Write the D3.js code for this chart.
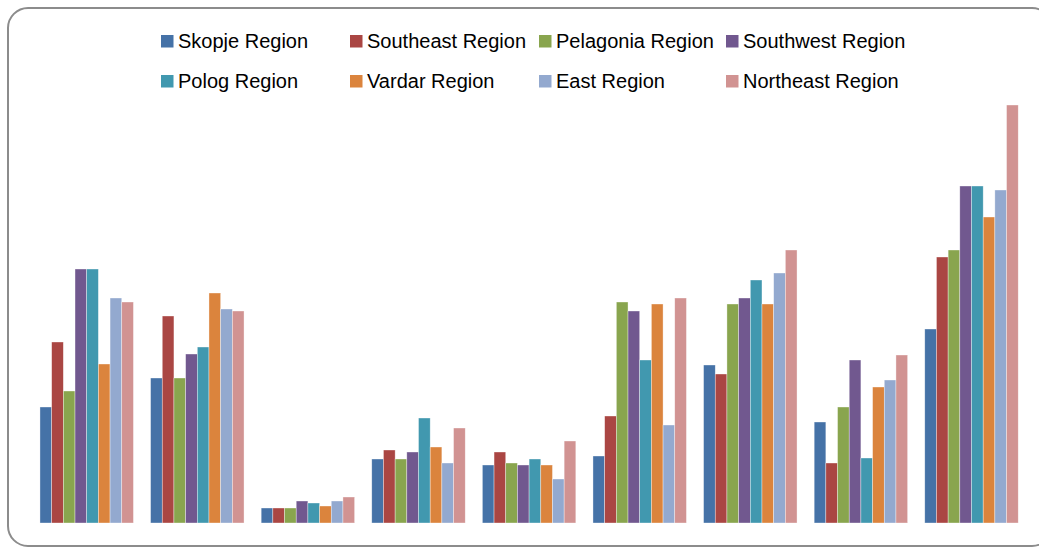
<!DOCTYPE html>
<html>
<head>
<meta charset="utf-8">
<script src="https://cdn.jsdelivr.net/npm/d3@7"></script>
<style>
    body { margin: 0; background: #fff; }
    svg { display: block; }
</style>
</head>
<body>
<div id="chart"></div>
<script>
// Series (regions) and their colours
const regions = ["Skopje Region", "Southeast Region", "Pelagonia Region", "Southwest Region",
                 "Polog Region", "Vardar Region", "East Region", "Northeast Region"];
const colors = ["#4572A7", "#AA4643", "#89A54E", "#71588F", "#4198AF", "#DB843D", "#93A9CF", "#D19392"];

// Categories have no labels in the picture
const categories = ["1", "2", "3", "4", "5", "6", "7", "8", "9"];

// Values per region, one per category
const skopje    = [116, 145, 15, 64, 58,  67, 158, 101, 194];
const southeast = [181, 207, 15, 73, 71, 107, 149,  60, 266];
const pelagonia = [132, 145, 15, 64, 60, 221, 219, 116, 273];
const southwest = [254, 169, 22, 71, 58, 212, 225, 163, 337];
const polog     = [254, 176, 20, 105, 64, 163, 243,  65, 337];
const vardar    = [159, 230, 17, 76, 58, 219, 219, 136, 306];
const east      = [225, 214, 22, 60, 44,  98, 250, 143, 333];
const northeast = [221, 212, 26, 95, 82, 225, 273, 168, 418];

const seriesValues = [skopje, southeast, pelagonia, southwest, polog, vardar, east, northeast];

const W = 1039, H = 548;

const svg = d3.select("#chart")
    .append("svg")
    .attr("width", W)
    .attr("height", H);

// Frame
svg.append("rect")
    .attr("x", 8)
    .attr("y", 8)
    .attr("width", 1044)
    .attr("height", 538)
    .attr("rx", 20)
    .attr("fill", "#fff")
    .attr("stroke", "#8c8c8c")
    .attr("stroke-width", 2);

// Scales
const x0 = d3.scaleBand()
    .domain(categories)
    .range([31.4, 1026.8])
    .paddingInner(0.155)
    .paddingOuter(0.0775);

const x1 = d3.scaleBand()
    .domain(regions)
    .range([0, x0.bandwidth()]);

const y = d3.scaleLinear()
    .domain([0, 418])
    .range([523, 105]);

const color = d3.scaleOrdinal().domain(regions).range(colors);

// Build rows for drawing
const rows = categories.map((c, i) => ({
    category: c,
    values: regions.map((r, j) => ({ region: r, value: seriesValues[j][i] }))
}));

// Bars
const groups = svg.selectAll(".group")
    .data(rows)
    .enter()
    .append("g")
    .attr("class", "group")
    .attr("transform", d => `translate(${x0(d.category)},0)`);

groups.selectAll("rect")
    .data(d => d.values)
    .enter()
    .append("rect")
    .attr("x", d => x1(d.region))
    .attr("y", d => y(d.value))
    .attr("width", x1.bandwidth())
    .attr("height", d => y(0) - y(d.value))
    .attr("fill", d => color(d.region))
    .attr("stroke", "rgba(255,255,255,0.6)")
    .attr("stroke-width", 0.6);

// Legend: two rows of four
const legendCols = [178, 367, 556, 743];
const legendRows = [48, 88];

const legend = svg.selectAll(".legend")
    .data(regions)
    .enter()
    .append("g")
    .attr("class", "legend")
    .attr("transform", (d, i) => `translate(${legendCols[i % 4]}, ${legendRows[Math.floor(i / 4)]})`);

legend.append("rect")
    .attr("x", -17)
    .attr("y", -13)
    .attr("width", 12.5)
    .attr("height", 12.5)
    .attr("fill", d => color(d));

legend.append("text")
    .attr("x", 0)
    .attr("y", 0)
    .style("font-family", "'Liberation Sans', Arial, sans-serif")
    .style("font-size", "20px")
    .attr("fill", "#000")
    .text(d => d);
</script>
</body>
</html>
